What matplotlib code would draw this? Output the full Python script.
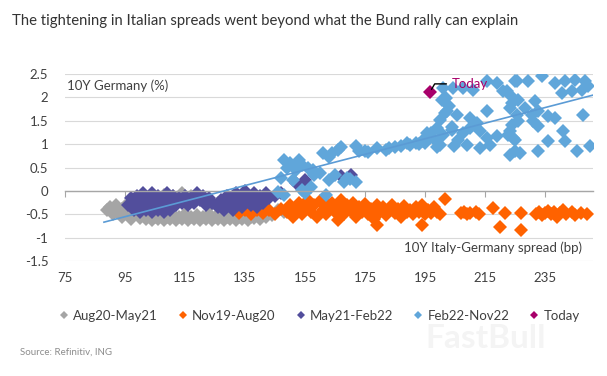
import matplotlib.pyplot as plt

plt.rcParams['font.family'] = ['Lato', 'DejaVu Sans']

# --- data (x = 10Y Italy-Germany spread bp, y = 10Y Bund %) ---
gray_x = [89, 90, 91, 92, 93, 94, 94, 95, 96, 97, 97, 98, 99, 100, 101, 102, 103, 104, 105, 106,
          107, 108, 109, 110, 111, 112, 113, 114, 115, 116, 117, 118, 119, 120, 121, 122, 123, 124,
          125, 126, 127, 128, 129, 130, 131, 132, 133, 134, 135, 136, 137, 138, 139, 140, 141, 142,
          143, 144, 146, 148, 150, 152, 154, 108, 111, 114, 117, 120, 123, 126]
gray_y = [-0.42, -0.35, -0.5, -0.3, -0.45, -0.38, -0.55, -0.32, -0.48, -0.4, -0.6, -0.52, -0.45,
          -0.58, -0.5, -0.6, -0.53, -0.62, -0.55, -0.6, -0.52, -0.62, -0.55, -0.6, -0.52, -0.62,
          -0.56, -0.6, -0.5, -0.62, -0.55, -0.6, -0.52, -0.62, -0.56, -0.6, -0.5, -0.62, -0.55,
          -0.6, -0.52, -0.63, -0.56, -0.6, -0.5, -0.62, -0.55, -0.6, -0.5, -0.62, -0.55, -0.58,
          -0.48, -0.6, -0.5, -0.55, -0.45, -0.52, -0.4, -0.45, -0.35, -0.42, -0.38, -0.08, -0.12,
          -0.05, -0.1, -0.15, -0.35, -0.25]

orange_x = [133, 135, 137, 139, 141, 143, 145, 147, 149, 150, 151, 152, 153, 154, 155, 156, 157,
            158, 159, 160, 161, 162, 163, 164, 165, 166, 166, 167, 168, 169, 170, 171, 172, 173,
            174, 175, 176, 177, 178, 179, 179, 180, 181, 182, 183, 184, 185, 186, 187, 188, 189,
            190, 191, 192, 193, 194, 194, 195, 196, 197, 198, 199, 200, 201.5, 207, 208, 209, 210,
            212, 213, 217.7, 220, 221.7, 227, 227, 232, 233, 234, 235, 236, 237, 238, 239, 240,
            241, 242, 244, 245, 247, 249]
orange_y = [-0.47, -0.42, -0.5, -0.4, -0.48, -0.42, -0.5, -0.38, -0.46, -0.3, -0.55, -0.4, -0.25,
            -0.5, -0.35, -0.2, -0.45, -0.3, -0.55, -0.22, -0.4, -0.5, -0.3, -0.25, -0.45, -0.62,
            -0.35, -0.2, -0.5, -0.3, -0.42, -0.25, -0.55, -0.35, -0.45, -0.28, -0.5, -0.38, -0.6,
            -0.72, -0.3, -0.45, -0.35, -0.52, -0.42, -0.3, -0.48, -0.38, -0.55, -0.32, -0.45, -0.4,
            -0.5, -0.35, -0.45, -0.72, -0.3, -0.5, -0.4, -0.48, -0.35, -0.45, -0.5, -0.17, -0.48,
            -0.46, -0.5, -0.47, -0.45, -0.5, -0.37, -0.77, -0.47, -0.47, -0.83, -0.5, -0.45, -0.52,
            -0.47, -0.43, -0.5, -0.45, -0.55, -0.48, -0.42, -0.5, -0.45, -0.52, -0.47, -0.5]

purple_x = [96, 97, 98, 99, 99, 100, 101, 101, 102, 103, 103, 104, 104, 105, 106, 106, 107, 108,
            108, 109, 109, 110, 110, 111, 112, 113, 114, 115, 116, 117, 118, 119, 120, 121, 122,
            123, 124, 126, 127, 128, 129, 129, 130, 131, 132, 132, 133, 134, 135, 135, 136, 137,
            138, 138, 139, 140, 141, 142, 143, 145, 147, 152, 155, 167, 170.5]
purple_y = [-0.3, -0.15, -0.4, -0.1, -0.3, -0.45, -0.05, -0.25, -0.4, -0.15, -0.35, -0.05, -0.45,
            -0.25, -0.1, -0.4, -0.3, -0.15, -0.45, -0.05, -0.3, -0.2, -0.4, -0.1, -0.3, -0.15,
            -0.25, -0.1, -0.3, -0.15, -0.25, -0.05, -0.2, -0.1, -0.3, -0.15, -0.25, -0.35, -0.2,
            -0.4, -0.1, -0.3, -0.2, -0.4, -0.05, -0.3, -0.15, -0.35, 0.0, -0.25, -0.1, -0.3, -0.05,
            -0.2, -0.35, -0.1, -0.25, -0.05, -0.15, -0.1, -0.05, 0.17, 0.23, 0.32, 0.33]

blue_x = [146, 148, 147, 148, 149, 150, 151, 152, 153, 154, 154, 155, 156, 157, 157.7, 158, 160,
          161, 162, 163, 163, 164, 165, 166, 167, 168, 169, 170, 172, 172, 173, 175, 176, 179, 182,
          183, 185, 187, 189, 190, 192, 193, 194, 195, 195.7, 197, 198, 199, 199, 200, 200, 200.7,
          201, 201, 201.7, 202, 202.3, 203, 204, 204, 204.3, 204.5, 205.7, 206, 207.7, 207.7, 209,
          210, 210, 211, 212.3, 213.3, 213.3, 215.7, 215.7, 215.7, 216.7, 219, 219, 221, 222.3,
          222.7, 223.3, 223.3, 223.3, 223.3, 224, 224, 224.3, 225, 225, 225, 225.7, 225.7, 226,
          226, 226.7, 228.3, 229.3, 230.7, 231, 231.7, 232.7, 232.7, 232.7, 234, 236, 236, 238.3,
          238.3, 240.7, 241, 241.7, 241.7, 244, 245, 245.7, 247.3, 247.7, 248.3, 249.3, 250]
blue_y = [-0.02, -0.08, 0.28, 0.66, 0.5, 0.6, 0.24, 0.45, 0.66, 0.02, 0.55, -0.05, 0.5, 0.09, 0.45,
          0.35, 0.38, 0.81, -0.08, 0.24, 0.73, 0.81, 0.35, 0.88, 0.94, 0.2, 0.28, 0.25, 0.19, 0.95,
          0.85, 0.85, 0.83, 0.92, 0.88, 0.92, 0.94, 0.95, 1.03, 0.98, 1.03, 1.0, 1.07, 1.03, 1.24,
          1.24, 1.1, 0.94, 1.35, 0.98, 1.52, 1.95, 1.2, 2.2, 1.67, 1.99, 1.71, 1.82, 1.37, 1.3, 2.2,
          0.96, 1.63, 1.09, 2.2, 1.24, 0.98, 1.56, 1.35, 2.16, 1.45, 1.28, 0.92, 2.35, 1.71, 1.13,
          0.98, 2.31, 1.18, 2.14, 2.14, 1.2, 2.05, 1.78, 1.28, 0.77, 1.88, 1.41, 1.13, 2.35, 1.09,
          0.86, 2.35, 1.63, 1.95, 1.5, 0.81, 1.78, 2.35, 1.63, 1.5, 1.93, 1.71, 1.39, 0.86, 2.46,
          1.6, 1.07, 2.31, 1.56, 2.1, 1.28, 2.35, 1.07, 2.14, 2.37, 0.86, 2.16, 1.63, 2.35, 2.25,
          0.96]

today_x = [196.7]
today_y = [2.12]

trend_x = [88, 251]
trend_y = [-0.67, 2.05]

series = [
    ("Aug20-May21", gray_x, gray_y, "#A5A5A5"),
    ("Nov19-Aug20", orange_x, orange_y, "#FF6200"),
    ("May21-Feb22", purple_x, purple_y, "#524E9C"),
    ("Feb22-Nov22", blue_x, blue_y, "#60A6DA"),
    ("Today", today_x, today_y, "#A8006A"),
]

fig = plt.figure(figsize=(6.07, 3.76), dpi=100)
ax = fig.add_axes([0.107, 0.306, 0.870, 0.497])

for name, xs, ys, col in series:
    ax.plot(xs, ys, linestyle='none', marker='D', markersize=7.4, color=col,
            markeredgewidth=0, label=name)

# trend line sits on top of the point clouds
ax.plot(trend_x, trend_y, color="#5B9BD5", linewidth=1.2, zorder=3)

ax.set_xlim(75, 251)
ax.set_ylim(-1.5, 2.5)
ax.set_yticks([-1.5, -1, -0.5, 0, 0.5, 1, 1.5, 2, 2.5])
ax.set_yticklabels(["-1.5", "-1", "-0.5", "0", "0.5", "1", "1.5", "2", "2.5"])
ax.set_xticks(range(75, 251, 20))
ax.grid(axis='y', color="#D9D9D9", linewidth=0.8)
ax.set_axisbelow(True)
for s in ['top', 'right', 'left']:
    ax.spines[s].set_visible(False)
ax.spines['bottom'].set_position(('data', 0))
ax.spines['bottom'].set_color("#A6A6A6")
ax.spines['bottom'].set_linewidth(1.0)
ax.tick_params(axis='x', direction='out', length=4, color="#A6A6A6", labelbottom=False)
ax.tick_params(axis='y', length=0, pad=12, labelsize=9.5, labelcolor="#404040")

sec = ax.secondary_xaxis('bottom')
sec.set_xticks(range(75, 251, 20))
sec.spines['bottom'].set_visible(False)
sec.tick_params(length=0, pad=8, labelsize=9.5, labelcolor="#404040")

ax.text(0.004, 0.94, "10Y Germany (%)", transform=ax.transAxes, fontsize=9.5,
        color="#404040", va='center', ha='left')
ax.text(0.979, 0.07, "10Y Italy-Germany spread (bp)", transform=ax.transAxes, fontsize=9.5,
        color="#404040", va='center', ha='right')

ax.annotate("Today", xy=(today_x[0], today_y[0]), xytext=(204, 2.29),
            fontsize=9.5, color="#A8006A", va='center', ha='left',
            arrowprops=dict(arrowstyle='-', color='black', linewidth=1.0,
                            shrinkA=2, shrinkB=2,
                            connectionstyle='angle,angleA=0,angleB=60'))

handles, labels = ax.get_legend_handles_labels()
leg = fig.legend(handles, labels, loc='center', bbox_to_anchor=(0.527, 0.16), ncol=5,
                 frameon=False, fontsize=9.5, markerscale=0.6, handlelength=0.6,
                 handletextpad=0.4, columnspacing=1.6)
for t in leg.get_texts():
    t.set_color("#404040")

fig.text(0.02, 0.944, "The tightening in Italian spreads went beyond what the Bund rally can explain",
         fontsize=10.7, color="#333333", va='center', ha='left')
fig.text(0.033, 0.064, "Source: Refinitiv, ING", fontsize=7, color="#8C8C8C",
         va='center', ha='left')
fig.text(0.8, 0.1, "FastBull", fontsize=24, fontweight='bold', color="#F4F4F4",
         va='center', ha='center')

fig.savefig("out.png", dpi=100)
